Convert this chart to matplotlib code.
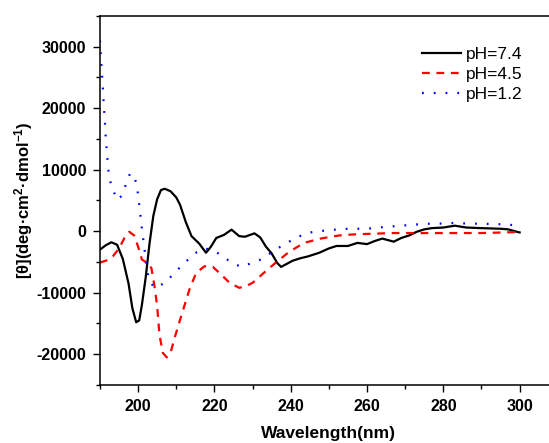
import matplotlib
matplotlib.use("Agg")
import matplotlib.pyplot as plt
from matplotlib.ticker import MultipleLocator

plt.rcParams["font.family"] = ["Liberation Sans", "DejaVu Sans"]
plt.rcParams["mathtext.fontset"] = "custom"
plt.rcParams["mathtext.rm"] = "Liberation Sans:bold"
plt.rcParams["mathtext.it"] = "Liberation Sans:bold"
plt.rcParams["mathtext.bf"] = "Liberation Sans:bold"
plt.rcParams["axes.unicode_minus"] = False

# pH=7.4
wl_74 = [190, 191.5, 193, 194.5, 196, 197.5, 198.5, 199.5, 200.3, 201, 202, 203, 204, 205,
         206, 207, 208.5, 210, 211, 212.5, 214, 216, 217.8, 219, 220.5, 222.5, 224.5, 226.5,
         228, 230.5, 232, 233.5, 235, 236.5, 237.5, 239, 240.5, 242.5, 244.5, 247.5, 250,
         252, 255, 257.5, 260, 262, 264, 267, 269, 271, 273, 275, 277, 280, 283, 286, 290,
         295, 297, 299, 300]
cd_74 = [-3000, -2300, -1800, -2200, -4500, -8500, -12500, -14800, -14500, -12000, -7500,
         -2000, 2500, 5200, 6700, 6900, 6500, 5500, 4300, 1500, -800, -2000, -3500, -2600,
         -1100, -600, 250, -800, -900, -350, -1000, -2500, -3600, -5200, -5800, -5300, -4800,
         -4400, -4100, -3500, -2800, -2400, -2400, -1900, -2100, -1600, -1200, -1700, -1100,
         -700, -100, 300, 500, 600, 900, 600, 500, 400, 300, -50, -200]

# pH=4.5
wl_45 = [190, 192, 193.5, 195, 196.5, 197.7, 199, 200, 201, 202.5, 203.5, 204.3, 205, 205.6,
         206.5, 207.5, 208.5, 209.5, 211.3, 213.5, 215.2, 217.4, 219.6, 221.7, 224, 226.5,
         228, 230, 232, 234, 236.5, 239.5, 243.5, 247.8, 252.6, 257, 262, 266.5, 272, 280,
         290, 298.7, 300]
cd_45 = [-5100, -4700, -4000, -2800, -1000, -100, -700, -2500, -4600, -5200, -6000, -8900,
         -12200, -16800, -19800, -20500, -19800, -17500, -13800, -9400, -6800, -5700, -5800,
         -7000, -8400, -9200, -9000, -8400, -7300, -6200, -4900, -3400, -1900, -1200, -700,
         -500, -400, -300, -300, -300, -300, -150, -200]

# pH=1.2
wl_12 = [190, 190.2, 190.4, 190.6, 190.8, 191, 191.3, 191.5, 191.8, 192.2, 192.6, 193.4,
         194.5, 195.3, 196, 196.9, 197.9, 198.9, 199.7, 200.4, 201, 201.7, 202.3, 203,
         204.3, 205.5, 207.3, 209.3, 211.3, 213.3, 215.4, 217.6, 220.3, 222.6, 225, 227.2,
         229.6, 232.6, 234.8, 237.4, 239.6, 242, 244.6, 247.4, 250, 253, 256, 260, 264, 269,
         275, 280, 283, 286, 291, 297, 300]
cd_12 = [31000, 29000, 27000, 25000, 23000, 20500, 18000, 15500, 13000, 10000, 8300, 6800,
         5100, 5500, 6100, 7800, 9400, 9100, 7400, 3800, 400, -3000, -6200, -8100, -9200,
         -8900, -8300, -6900, -5700, -4500, -3400, -2800, -3300, -4300, -5300, -5800, -5200,
         -4500, -3500, -2500, -1700, -900, -250, 0, 150, 350, 400, 400, 650, 900, 1200, 1250,
         1350, 1250, 1200, 1100, 800]

fig = plt.figure(figsize=(5.49, 4.43), dpi=100)
ax = fig.add_axes([0.182, 0.131, 0.834, 0.833])

ax.plot(wl_74, cd_74, color="black", lw=1.6, label="pH=7.4")
ax.plot(wl_45, cd_45, color="red", lw=1.6, dashes=(3.5, 3), label="pH=4.5")
ax.plot(wl_12, cd_12, color="blue", lw=1.6, dashes=(0.8, 4.5), label="pH=1.2")

ax.set_xlim(190, 310)
ax.set_ylim(-25000, 35000)
ax.xaxis.set_major_locator(MultipleLocator(20))
ax.xaxis.set_minor_locator(MultipleLocator(10))
ax.yaxis.set_major_locator(MultipleLocator(10000))
ax.yaxis.set_minor_locator(MultipleLocator(5000))
ax.tick_params(which="major", length=5, width=1, direction="out", pad=5)
ax.tick_params(which="minor", length=3, width=1, direction="out")
for lab in ax.get_xticklabels() + ax.get_yticklabels():
    lab.set_fontweight("bold")
    lab.set_fontsize(11.5)
for s in ax.spines.values():
    s.set_linewidth(1.1)
ax.spines["right"].set_visible(False)

ax.set_xlabel("Wavelength(nm)", fontsize=12.5, fontweight="bold", labelpad=9)
ax.set_ylabel(r"[θ](deg·cm$^{2}$·dmol$^{-1}$)", fontsize=12, fontweight="bold", labelpad=1)

fig.legend(loc="upper left", bbox_to_anchor=(0.768, 0.895), frameon=False, fontsize=12.5,
           borderpad=0, borderaxespad=0, handlelength=2.25, handletextpad=0.3,
           labelspacing=0.3)

fig.savefig("out.png", dpi=100)
